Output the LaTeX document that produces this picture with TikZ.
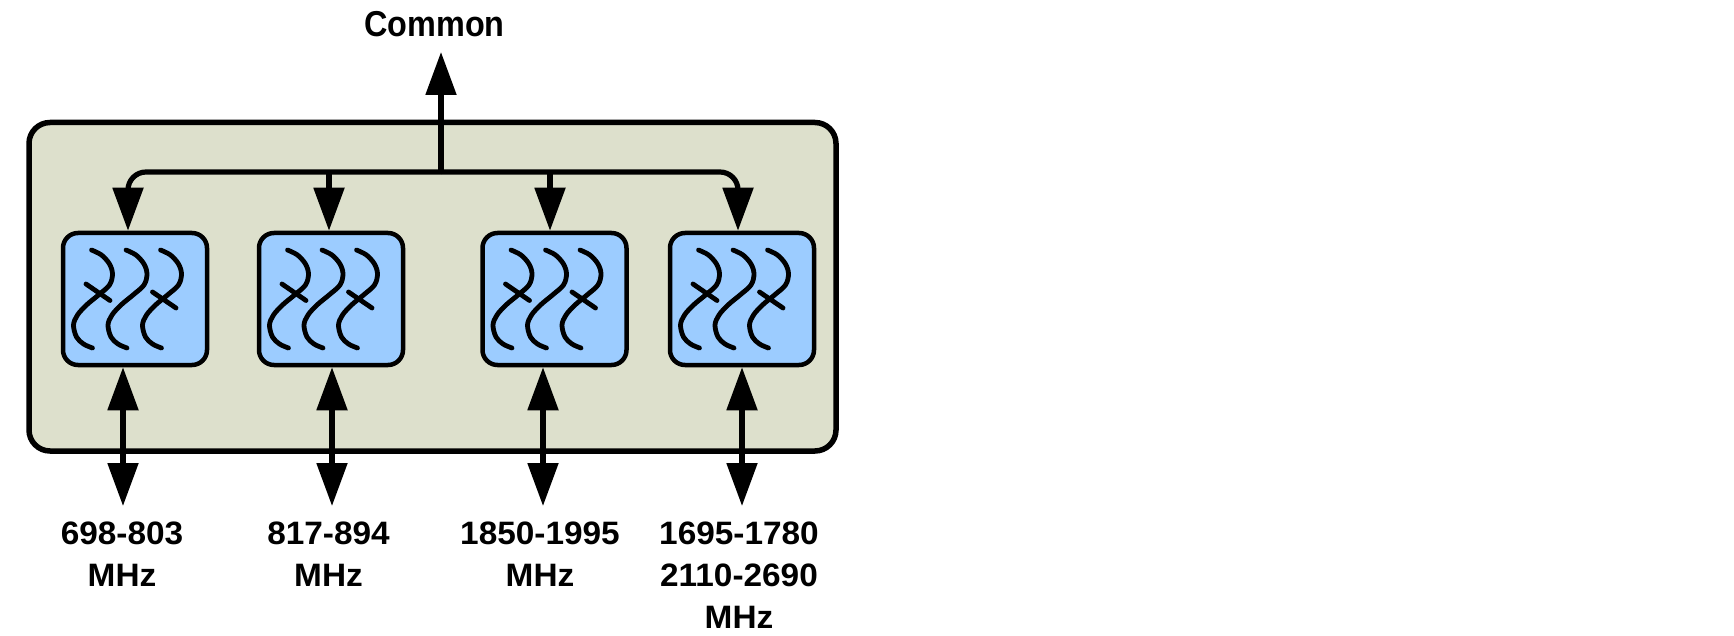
\documentclass[tikz,border=0pt]{standalone}
\usepackage{fontspec}
\setmainfont{Liberation Sans}
\newfontfamily\labfont{Liberation Sans}[FakeStretch=1.03]
\newfontfamily\comfont{Liberation Sans}[FakeStretch=0.9]
\usetikzlibrary{arrows.meta}
\definecolor{modfill}{HTML}{DDE0CC}
\definecolor{filtfill}{HTML}{9CCCFF}
\tikzset{
  module/.style={draw=black, line width=2.75pt, fill=modfill, rounded corners=10.5pt,
    minimum width=403.5pt, minimum height=164.25pt, inner sep=0pt},
  filt/.style={draw=black, line width=2.25pt, fill=filtfill, rounded corners=7.5pt,
    minimum width=72pt, minimum height=66pt, inner sep=0pt},
  conn/.style={line width=2.6pt},
  tipend/.style={-{Triangle[length=21.5pt,width=15pt]}},
  bitip/.style={{Triangle[length=21.5pt,width=15pt]}-{Triangle[length=21.5pt,width=15pt]}},
  reso/.style={line width=2.4pt, line cap=round, line join=round},
  lab/.style={font=\labfont\fontsize{16.2}{21}\selectfont\bfseries, align=center,
    anchor=north, inner sep=0pt},
  comlab/.style={font=\comfont\fontsize{18}{20}\selectfont\bfseries, anchor=base, inner sep=0pt},
}
\begin{document}
\begin{tikzpicture}[x=0.5pt,y=-0.5pt]
\useasboundingbox (0,0) rectangle (1734,636);
% module body
\node[module] (mod) at (432.5,286.75) {};
% filters
\node[filt] (f1) at (135,299) {};
\node[filt] (f2) at (331,299) {};
\node[filt] (f3) at (554.5,299) {};
\node[filt] (f4) at (742,299) {};
% resonator symbols
\foreach \f in {f1,f2,f3,f4}{
  \begin{scope}[shift={(\f.center)}]
    \foreach \dx in {-43.5,-9,25.5}{
      \begin{scope}[shift={(\dx,0)}]
        \draw[reso] plot[smooth,tension=0.55] coordinates
          {(0,-49) (10,-44) (18,-35) (21,-25) (18,-14) (7,-4) (-5,6) (-14,16) (-18,26) (-15,38) (-8,45) (1,49)};
      \end{scope}
    }
    \draw[reso] (-49,-15) -- (-25,1.5);
    \draw[reso] (17.5,-7) -- (41,9);
  \end{scope}
}
% common port
\node[comlab] (common) at (434.5,37) {Common};
\coordinate (j) at (441,172);
\coordinate (ctip) at (441,52);
\draw[conn,tipend] (j) -- (ctip);
% bus to filters
\coordinate (t1) at ([xshift=-3.5pt]f1.north);
\coordinate (t2) at ([xshift=-1pt]f2.north);
\coordinate (t3) at ([xshift=-2.25pt]f3.north);
\coordinate (t4) at ([xshift=-2pt]f4.north);
\draw[conn,tipend,rounded corners=9pt] (j) -| (t1);
\draw[conn,tipend,rounded corners=9pt] (j) -| (t4);
\draw[conn,tipend] (t2 |- j) -- (t2);
\draw[conn,tipend] (t3 |- j) -- (t3);
% band ports
\coordinate (e1) at (123,506);
\coordinate (e2) at (332,506);
\coordinate (e3) at (543,506);
\coordinate (e4) at (742,506);
\draw[conn,bitip] (f1.south -| e1) -- (e1);
\draw[conn,bitip] (f2.south -| e2) -- (e2);
\draw[conn,bitip] (f3.south -| e3) -- (e3);
\draw[conn,bitip] (f4.south -| e4) -- (e4);
% labels
\node[lab] (l1) at (122,521.5) {698-803\\MHz};
\node[lab] (l2) at (328.5,521.5) {817-894\\MHz};
\node[lab] (l3) at (540,521.5) {1850-1995\\MHz};
\node[lab] (l4) at (739,521.5) {1695-1780\\2110-2690\\MHz};
\end{tikzpicture}
\end{document}
